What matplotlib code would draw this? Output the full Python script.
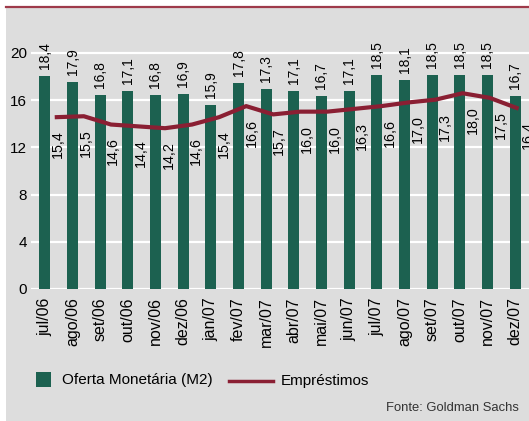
import numpy as np
import matplotlib.pyplot as plt
from matplotlib.patches import Rectangle
from matplotlib.lines import Line2D

plt.rcParams['font.family'] = ['Liberation Sans', 'DejaVu Sans']

months = ['jul/06', 'ago/06', 'set/06', 'out/06', 'nov/06', 'dez/06', 'jan/07',
          'fev/07', 'mar/07', 'abr/07', 'mai/07', 'jun/07', 'jul/07', 'ago/07',
          'set/07', 'out/07', 'nov/07', 'dez/07']
m2 = [18.4, 17.9, 16.8, 17.1, 16.8, 16.9, 15.9, 17.8, 17.3, 17.1, 16.7, 17.1,
      18.5, 18.1, 18.5, 18.5, 18.5, 16.7]
loans = [15.4, 15.5, 14.6, 14.4, 14.2, 14.6, 15.4, 16.6, 15.7, 16.0, 16.0, 16.3,
         16.6, 17.0, 17.3, 18.0, 17.5, 16.4]

GREEN = '#1c6150'
RED = '#8a1f33'
BG = '#dddddd'

W, H = 529, 421
fig = plt.figure(figsize=(W / 100, H / 100), dpi=100)
fig.patch.set_facecolor('white')
fig.patches.append(Rectangle((6 / W, 0), 1, (H - 8) / H, transform=fig.transFigure,
                             facecolor=BG, edgecolor='none', zorder=-5))
fig.lines.append(Line2D([6 / W, 1], [1 - 7 / H, 1 - 7 / H], transform=fig.transFigure,
                        color='#9e3a4a', lw=1.6))

# axes: x from 31px to 529px, y=0 at 289px, 11.8px per unit
ymax = 23
bottom = (H - 289) / H
height = ymax * 11.8 / H
ax = fig.add_axes([31 / W, bottom, 1 - 31 / W, height])
ax.set_facecolor('none')
ax.set_xlim(-0.5, len(months) - 0.5)
ax.set_ylim(0, ymax)
for s in ax.spines.values():
    s.set_visible(False)
ax.set_yticks([0, 4, 8, 12, 16, 20])
ax.yaxis.grid(True, color='white', lw=1.6)
ax.set_axisbelow(True)
ax.tick_params(axis='y', length=0, labelsize=11, pad=3)
ax.set_xticks(range(len(months)))
ax.set_xticklabels(months, rotation=90, fontsize=11.5)
ax.tick_params(axis='x', length=0, pad=6)

x = np.arange(len(months))

# bars sit on their own (slightly stretched) scale, as in the original
axb = ax.twinx()
axb.set_ylim(0, ymax / 0.98)
axb.axis('off')
axb.bar(x, m2, width=0.4, color=GREEN, zorder=2)
for xi, v in zip(x, m2):
    axb.annotate(f'{v:.1f}'.replace('.', ','), (xi, v), xytext=(0, 7),
                 textcoords='offset pixels', rotation=90, ha='center', va='bottom',
                 fontsize=10)

# loans on a secondary scale
ax2 = ax.twinx()
ax2.set_ylim(-3.27, -3.27 + ymax / 0.78)
ax2.axis('off')
xl = 0.433 + x * 0.9777
ax2.plot(xl, loans, color=RED, lw=3, zorder=3)
for xi, v in zip(x, loans):
    ax2.annotate(f'{v:.1f}'.replace('.', ','), (xi + 0.47, v), xytext=(0, -13),
                 textcoords='offset pixels', rotation=90, ha='center', va='top',
                 fontsize=10.3, annotation_clip=False)

# legend
fig.patches.append(Rectangle((36 / W, 1 - 387 / H), 15 / W, 15 / H,
                             transform=fig.transFigure, facecolor=GREEN, edgecolor='none'))
fig.text(62 / W, 1 - 380 / H, 'Oferta Monetária (M2)', fontsize=11, va='center')
fig.lines.append(Line2D([229 / W, 273 / W], [1 - 381 / H, 1 - 381 / H],
                        transform=fig.transFigure, color=RED, lw=2.5))
fig.text(281 / W, 1 - 381 / H, 'Empréstimos', fontsize=11, va='center')
fig.text(519 / W, 1 - 408 / H, 'Fonte: Goldman Sachs', fontsize=9.4, ha='right',
         va='center', color='#333333')

fig.savefig('out.png', dpi=100)
